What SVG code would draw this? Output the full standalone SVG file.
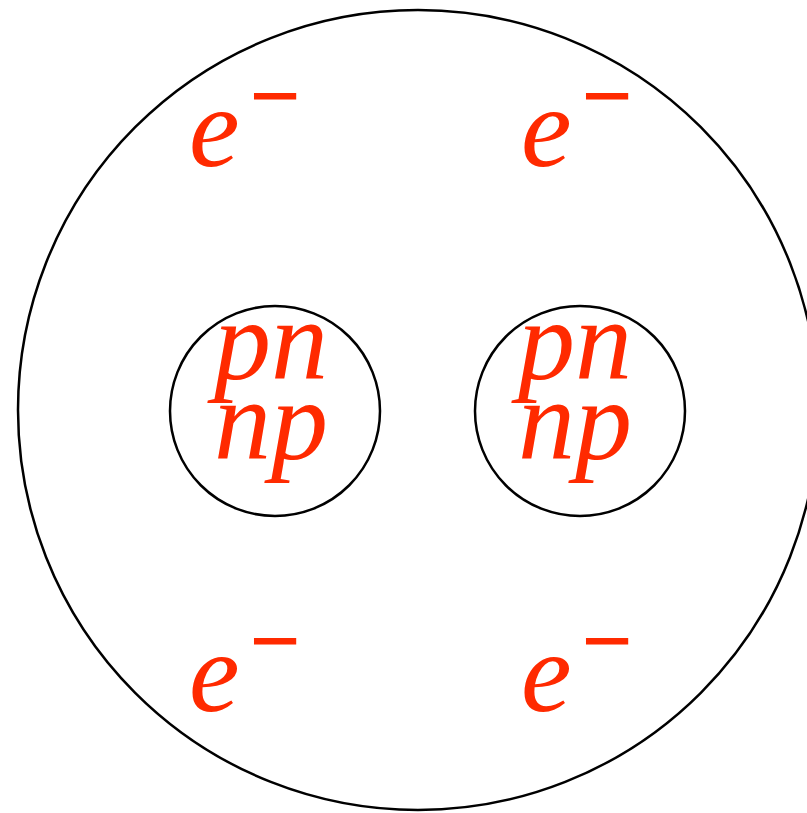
<svg xmlns="http://www.w3.org/2000/svg" width="807" height="813" viewBox="0 0 807 813">
<style>
.ring{fill:none;stroke:#000;stroke-width:2.5}
.t{font-family:"Liberation Serif","Times New Roman",serif;font-style:italic;font-size:114px;fill:#ff2a00}
.m{font-family:"Liberation Serif","Times New Roman",serif;font-size:86px;fill:#ff2a00;stroke:#ff2a00;stroke-width:2.2}
</style>
<rect width="807" height="813" fill="#fff"/>
<g id="atom"><circle class="ring" cx="418" cy="410" r="400"/></g>
<g id="nucleus1">
<circle class="ring" cx="275" cy="411" r="105"/>
<text class="t" x="271" y="379" text-anchor="middle">pn</text>
<text class="t" x="271" y="459" text-anchor="middle">np</text>
</g>
<g id="nucleus2">
<circle class="ring" cx="580" cy="411" r="105"/>
<text class="t" x="575" y="379" text-anchor="middle">pn</text>
<text class="t" x="575" y="459" text-anchor="middle">np</text>
</g>
<g id="e1"><text class="t" x="189" y="166">e</text><text class="m" x="251" y="125">−</text></g>
<g id="e2"><text class="t" x="521" y="166">e</text><text class="m" x="583" y="125">−</text></g>
<g id="e3"><text class="t" x="189" y="711">e</text><text class="m" x="251" y="670">−</text></g>
<g id="e4"><text class="t" x="521" y="711">e</text><text class="m" x="583" y="670">−</text></g>
</svg>
